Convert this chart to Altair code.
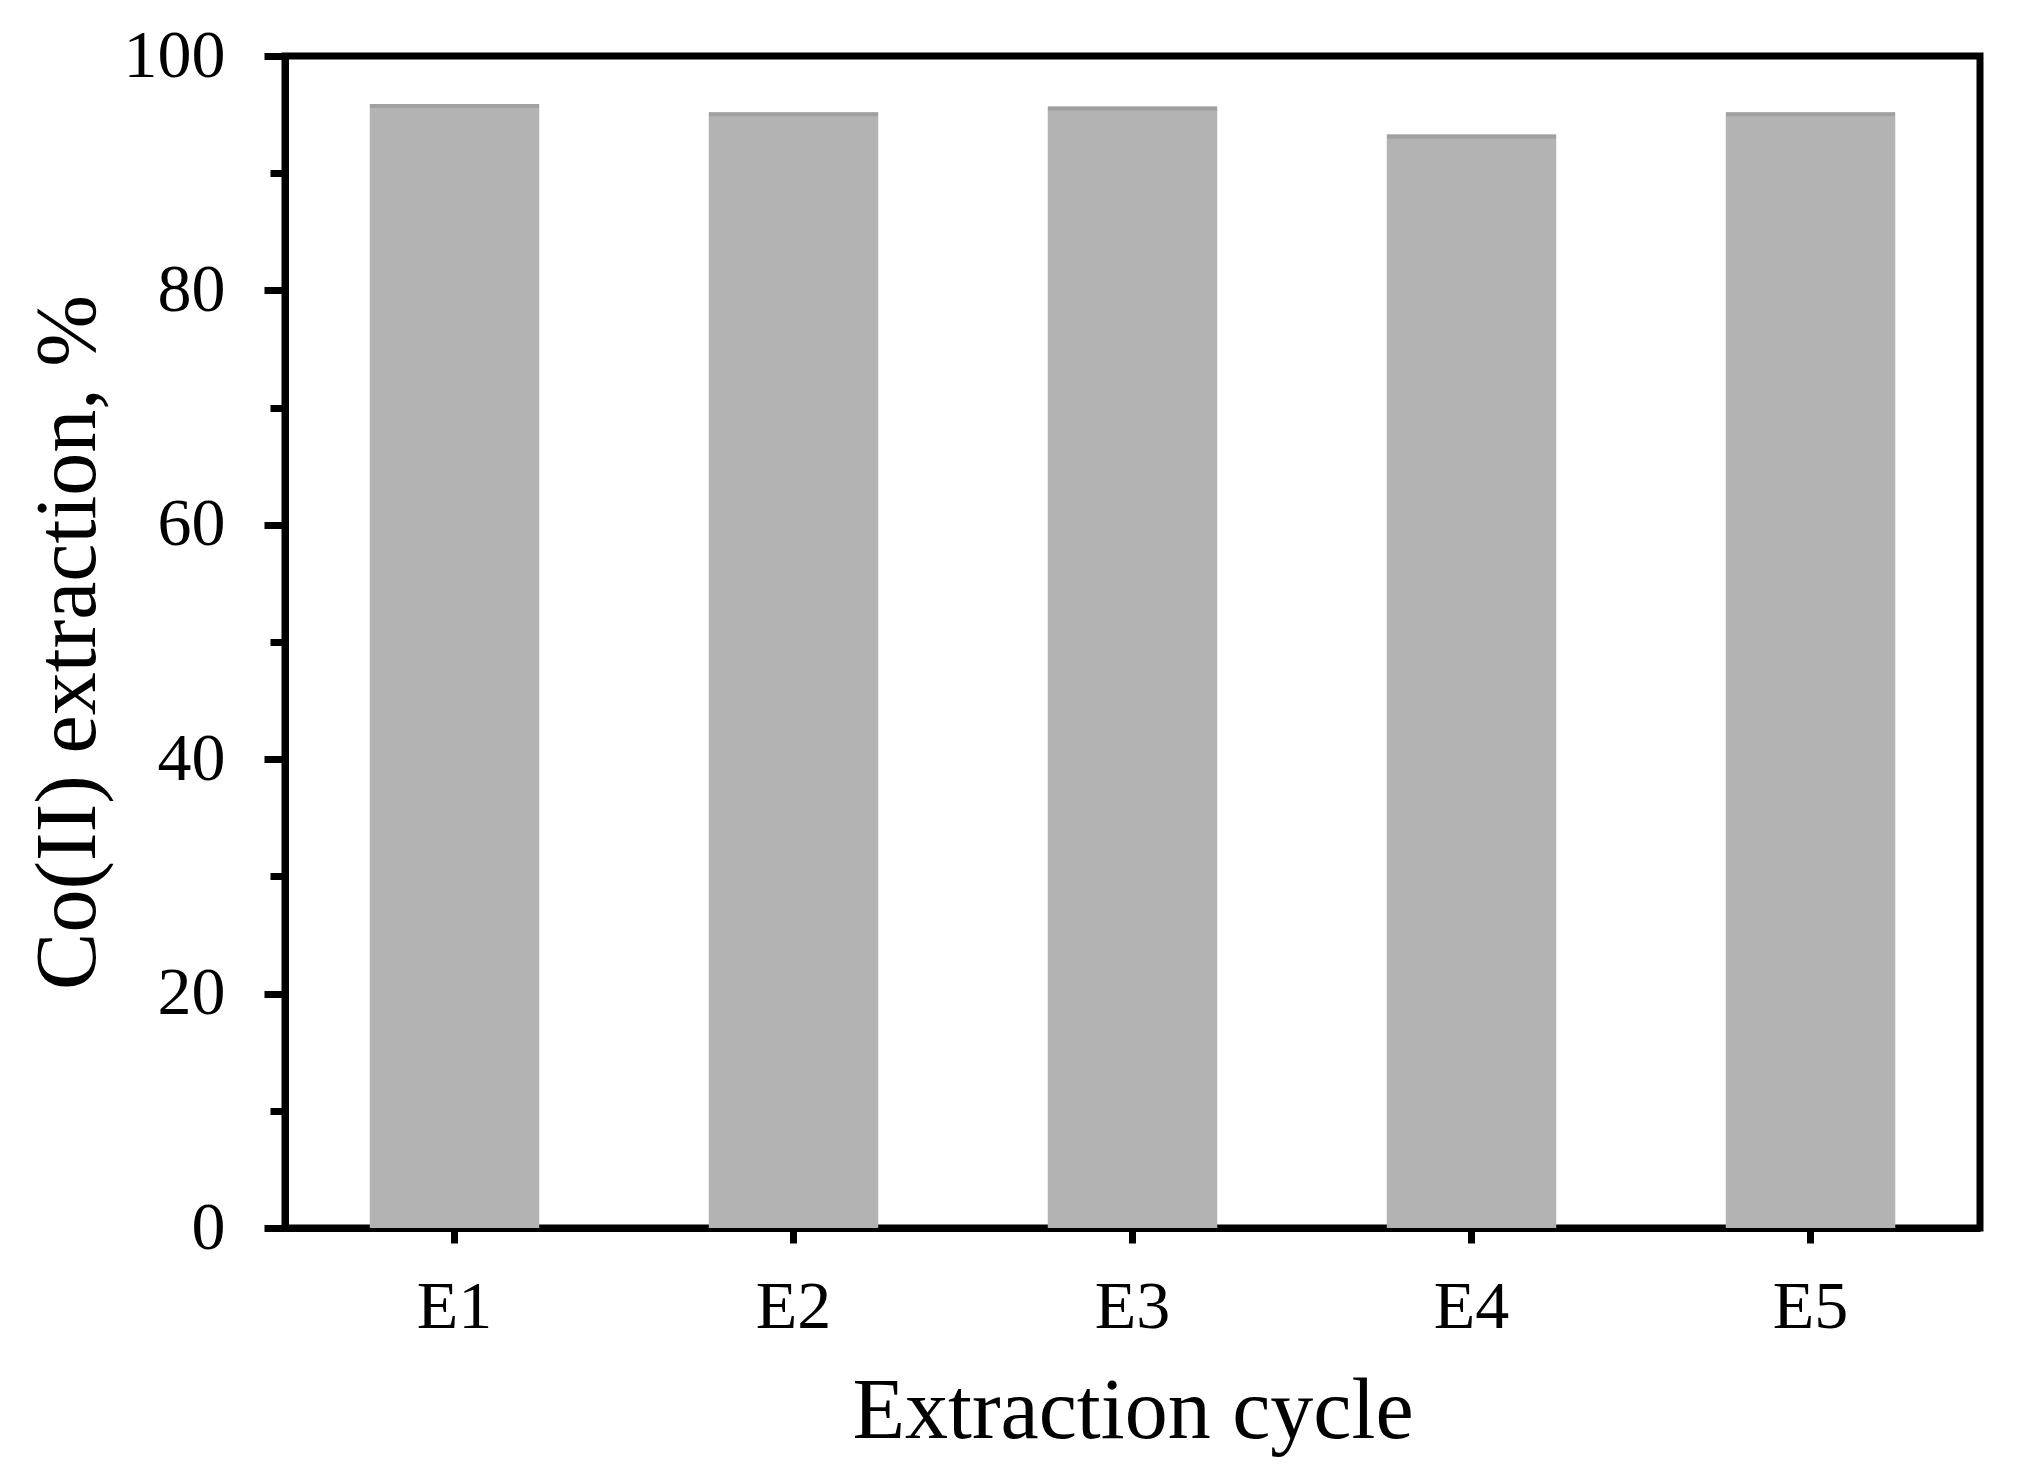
import altair as alt
import pandas as pd

cycles = ["E1", "E2", "E3", "E4", "E5"]
extraction = [95.9, 95.2, 95.7, 93.3, 95.2]
y_tick_values = [0, 10, 20, 30, 40, 50, 60, 70, 80, 90, 100]

df = pd.DataFrame({"cycle": cycles, "extraction": extraction})

FONT = "'Times New Roman', 'Liberation Serif', Times, serif"
W, H = 1695, 1172

x_enc = alt.X(
    "cycle:N",
    sort=cycles,
    scale=alt.Scale(paddingInner=0.5, paddingOuter=0.25),
    axis=alt.Axis(
        title="Extraction cycle",
        labelAngle=0,
        labelFont=FONT,
        labelFontSize=68,
        labelColor="black",
        labelBaseline="alphabetic",
        labelPadding=84,
        tickSize=15,
        tickWidth=7,
        tickColor="black",
        domainColor="black",
        domainWidth=7,
        titleFont=FONT,
        titleFontSize=86,
        titleFontWeight="normal",
        titleColor="black",
        titleBaseline="alphabetic",
        titleY=209,
        grid=False,
    ),
)

y_enc = alt.Y(
    "extraction:Q",
    scale=alt.Scale(domain=[0, 100], nice=False),
    axis=alt.Axis(
        title="Co(II) extraction, %",
        values=y_tick_values,
        labelExpr="datum.value % 20 === 0 ? datum.label : ''",
        labelFont=FONT,
        labelFontSize=68,
        labelColor="black",
        labelPadding=39,
        tickSize={"condition": {"test": "datum.value % 20 === 0", "value": 21}, "value": 15},
        tickWidth=7,
        tickColor="black",
        domainColor="black",
        domainWidth=7,
        titleFont=FONT,
        titleFontSize=86,
        titleFontWeight="normal",
        titleColor="black",
        titleBaseline="alphabetic",
        titleAngle=-90,
        titleX=-191,
        titleY=H / 2,
        grid=False,
    ),
)

bars = alt.Chart(df).mark_bar(color="#b3b3b3").encode(x=x_enc, y=y_enc)
tops = alt.Chart(df).mark_tick(color="#999999", thickness=4, size=169, yOffset=2).encode(x=x_enc, y=y_enc)

chart = (
    alt.layer(bars, tops)
    .properties(
        width=W,
        height=H,
        autosize=alt.AutoSizeParams(type="none"),
        padding={"left": 277, "top": 48, "right": 32, "bottom": 232},
        background="white",
    )
    .configure_view(stroke="black", strokeWidth=7)
)

chart.save("out.html", embed_options={"renderer": "svg", "actions": False})
